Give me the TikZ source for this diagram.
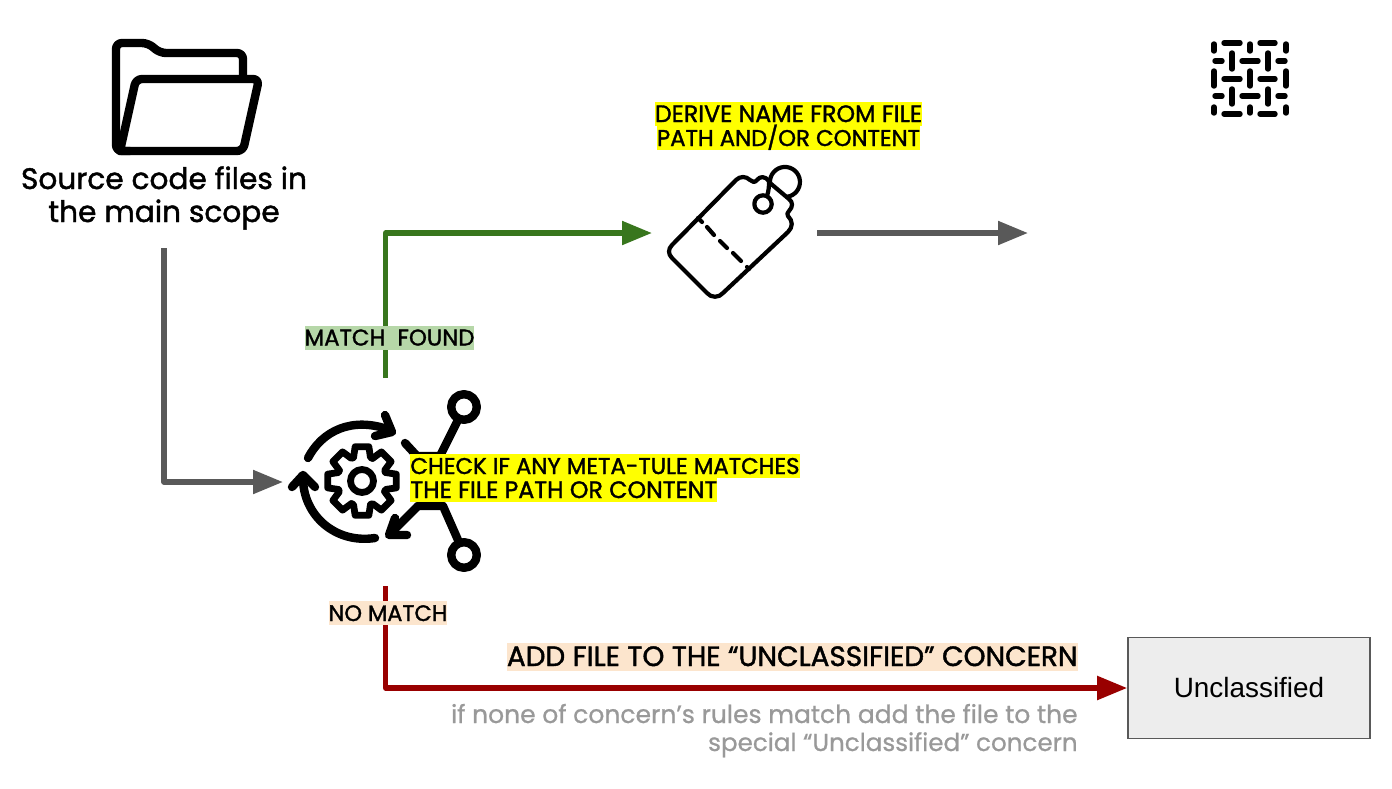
\documentclass[tikz,border=0pt]{standalone}
\usepackage{fontspec}
\setmainfont{Poppins}
\newfontfamily\medfont[FakeBold=1.5]{Poppins}
\newfontfamily\notefont[FakeBold=0.8]{Poppins}
\newfontfamily\arialfont{Liberation Sans}
\usetikzlibrary{arrows.meta}
\definecolor{hlyellow}{HTML}{FFFF00}
\definecolor{hlgreen}{HTML}{B6D7A8}
\definecolor{hlorange}{HTML}{FCE5CD}
\definecolor{darkgreen}{HTML}{38761D}
\definecolor{darkred}{HTML}{990000}
\definecolor{arrowgrey}{HTML}{595959}
\definecolor{notegrey}{HTML}{999999}
\tikzset{
  x=0.5pt,y=-0.5pt,
  conn/.style={line width=2.6pt,line join=round,-{Triangle[length=15pt,width=11.5pt]}},
  lbl/.style={inner sep=0pt,text height=10pt,text depth=2pt},
  hl/.style={lbl,fill=hlyellow},
  srctext/.style={inner sep=0pt,text height=11.5pt,text depth=3.5pt,font=\medfont\fontsize{14.8}{15}\selectfont},
  notetext/.style={anchor=east,inner sep=0pt,text height=10pt,text depth=3pt,text=notegrey},
  icon/.style={line width=4.2pt,line cap=round,line join=round,black},
  gearline/.style={line width=3.4pt,line cap=round,line join=round,black},
  tagline/.style={line width=2.1pt,line cap=round,line join=round,black},
  wv/.style={line width=2.7pt,line cap=round,black},
}
\newcommand{\lsize}[1]{\medfont\fontsize{#1}{13}\selectfont}
\begin{document}
\begin{tikzpicture}
\useasboundingbox (0,0) rectangle (1392,788);
% folder icon
\draw[icon,rounded corners=3pt] (130,151) -- (116,151) -- (116,43) -- (148,43) -- (160,53) -- (243,53) -- (243,77);
\draw[icon,rounded corners=3pt] (120,151) -- (243,151) -- (259,79) -- (136,79) -- (120,151);
\node[srctext] (src1) at (164,181) {Source code files in};
\node[srctext] (src2) at (164,214) {the main scope};
% tag icon
\begin{scope}[tagline]
\draw (769,181) .. controls (765,176) and (760,176) .. (757,180) .. controls (755,183) and (752,182) .. (750,180) .. controls (746,176) and (740,176) .. (736,180) -- (672,245) .. controls (668,249) and (668,254) .. (672,258) -- (707,293) .. controls (711,298) and (719,298) .. (723,293) -- (788,232) .. controls (793,227) and (793,221) .. (788,216) .. controls (787,214) and (787,213) .. (789,211) .. controls (793,207) and (793,202) .. (789,199) -- (770,183);
\draw (698,218) -- (702,222) (707,227) -- (714,235) (720,241) -- (727,248) (733,253) -- (741,261) (747,267) -- (749,269);
\draw (770,183) arc[start angle=176,end angle=442,radius=15];
\draw (763,204) circle (8.7);
\draw (767,196) .. controls (769,190) and (769,186) .. (769,180);
\end{scope}
% weave icon
\begin{scope}[wv]
\foreach \x in {1214,1250,1286}{
  \draw (\x,44) -- (\x,51);
  \draw (\x,71) -- (\x,86);
  \draw (\x,107) -- (\x,113);
}
\foreach \x in {1232,1268}{
  \draw (\x,53) -- (\x,69);
  \draw (\x,89) -- (\x,104);
}
\foreach \y in {43,79,114}{
  \draw (1224,\y) -- (1240,\y);
  \draw (1260,\y) -- (1275,\y);
}
\foreach \y in {61,96}{
  \draw (1215,\y) -- (1222,\y);
  \draw (1242,\y) -- (1258,\y);
  \draw (1278,\y) -- (1285,\y);
}
\end{scope}
% process icon
\begin{scope}[icon]
\draw (308,458) .. controls (322,431) and (352,416) .. (390,430);
\draw (385,415) -- (392,432) -- (375,436);
\draw (375,538) .. controls (335,544) and (303,515) .. (303,478);
\draw (292,487) -- (303,475) -- (315,487);
\draw (405,443) -- (417,456) -- (440,456) -- (457,422);
\draw (418,506) -- (443,506) -- (458,540);
\draw (418,506) -- (390,534);
\draw (395,518) -- (389,535) -- (407,535);
\draw (464,407) circle (12.8);
\draw (464,555) circle (12.8);
\end{scope}
\begin{scope}[gearline,shift={(362,481)}]
\draw (0,0) circle (11.5);
\foreach \a in {0,45,...,315}{
  \draw (\a-19.8:25) -- (\a-11.3:35) -- (\a+11.3:35) -- (\a+19.8:25) -- (\a+25.2:25);
}
\end{scope}
% connector anchors
\coordinate (srcout) at (164,248);
\coordinate (procin) at (283,482);
\coordinate (procup) at (385.5,378);
\coordinate (tagin) at (652,233);
\coordinate (tagout) at (817,233);
\coordinate (nameout) at (1028,233);
\coordinate (procdown) at (385.5,586);
% box
\node[draw=arrowgrey,fill=black!7,line width=0.8pt,minimum width=121pt,minimum height=50.5pt,inner sep=0pt,font=\arialfont\fontsize{13.95}{16}\selectfont] (unc) at (1249,688) {Unclassified};
% connectors
\draw[conn,arrowgrey] (srcout) |- (procin);
\draw[conn,darkgreen] (procup) |- (tagin);
\draw[conn,arrowgrey] (tagout) -- (nameout);
\draw[conn,darkred] (procdown) |- (unc.west);
% labels
\node[hl,font=\lsize{11.85}] (d1) at (788.5,114) {DERIVE NAME FROM FILE};
\node[hl,font=\lsize{11.4}] (d2) at (788.5,138) {PATH AND/OR CONTENT};
\node[hl,anchor=west,font=\lsize{11.4}] (c1) at (410,466) {CHECK IF ANY META-TULE MATCHES};
\node[hl,anchor=west,font=\lsize{11.85}] (c2) at (410,490) {THE FILE PATH OR CONTENT};
\node[lbl,fill=hlgreen,font=\lsize{11.4}] (m) at (389.5,337.5) {MATCH\ \ FOUND};
\node[lbl,fill=hlorange,font=\lsize{11.2}] (n) at (388,613) {NO MATCH};
\node[inner sep=0pt,fill=hlorange,anchor=east,font=\lsize{13.95},text height=11.5pt,text depth=2.5pt] (a) at (1078,657) {ADD FILE TO THE “UNCLASSIFIED” CONCERN};
\node[notetext,font=\notefont\fontsize{12.5}{14}\selectfont] (g1) at (1078,716) {if none of concern’s rules match add the file to the};
\node[notetext,font=\notefont\fontsize{12.3}{14}\selectfont] (g2) at (1078,744) {special “Unclassified” concern};
\end{tikzpicture}
\end{document}
